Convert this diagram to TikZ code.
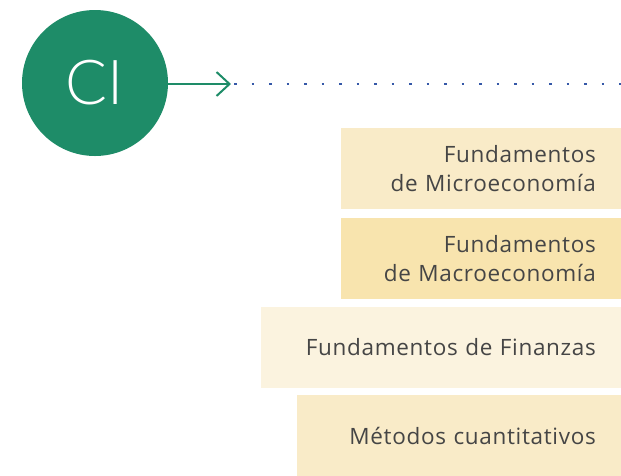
\documentclass[tikz,border=0pt]{standalone}
\usepackage{fontspec}
\setmainfont{Open Sans}[LetterSpace=3]
\IfFontExistsTF{Lato Light}{\newfontfamily\cifont{Lato Light}}{\newfontfamily\cifont{Lato}}
\usetikzlibrary{arrows.meta}
\definecolor{cigreen}{HTML}{1E8C68}
\definecolor{dotblue}{HTML}{3558A8}
\definecolor{boxA}{HTML}{F9EBC8}
\definecolor{boxB}{HTML}{F8E4AE}
\definecolor{boxC}{HTML}{FBF3DF}
\definecolor{txt}{HTML}{454545}
\begin{document}
\begin{tikzpicture}[x=1pt,y=-1pt,
  course/.style={rectangle, anchor=east, minimum height=81pt, inner xsep=25pt, inner ysep=0pt,
    align=right, text=txt, font=\fontsize{22.5}{29}\selectfont},
  ]
\useasboundingbox (0,0) rectangle (621,475);
\begin{scope}
\clip (0,0) rectangle (621,475);
\node[circle, fill=cigreen, minimum size=146pt, inner sep=0pt, text=white,
  font=\fontsize{62}{62}\cifont] (ci) at (95,83) {CI};
\coordinate (tip) at (231,84);
\coordinate (dend) at (621,84);
\draw[cigreen, line width=2pt, -{Straight Barb[length=13pt,width=24pt]}] (ci.east |- tip) -- (tip);
\draw[dotblue, line width=2pt, dash pattern=on 2.5pt off 15pt] ([xshift=3pt]tip) -- (dend);
\node[course, fill=boxA, minimum width=280pt, text width=230pt] (m1) at (621,168.5) {Fundamentos\\de Microeconomía};
\node[course, fill=boxB, minimum width=280pt, text width=230pt] (m2) at (621,258.5) {Fundamentos\\de Macroeconomía};
\node[course, fill=boxC, minimum width=360pt, text width=310pt] (m3) at (621,347.5) {Fundamentos de Finanzas};
\node[course, fill=boxA, minimum width=324pt, text width=274pt] (m4) at (621,435.5) {Métodos cuantitativos};
\end{scope}
\end{tikzpicture}
\end{document}
